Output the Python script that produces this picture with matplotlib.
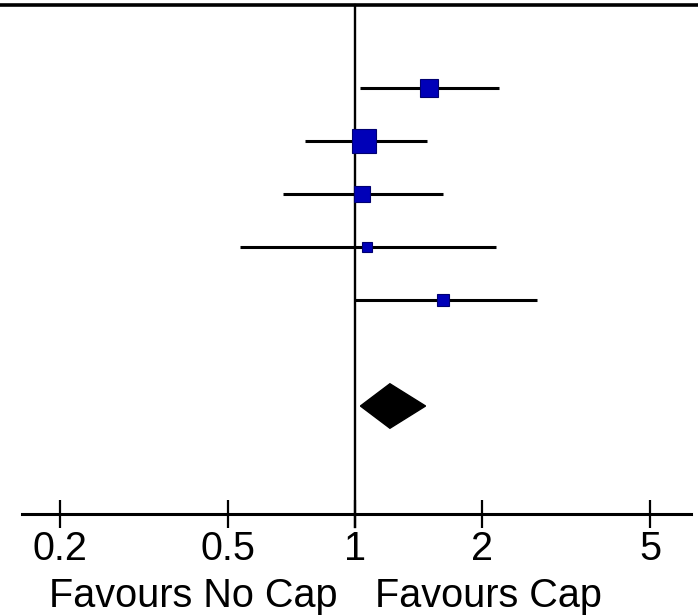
import numpy as np
import matplotlib.pyplot as plt

# study estimates (odds ratio) with 95% CI
studies = ['Study 1', 'Study 2', 'Study 3', 'Study 4', 'Study 5']
odds_ratio = [1.50, 1.05, 1.04, 1.07, 1.62]
ci_low = [1.03, 0.76, 0.675, 0.535, 1.00]
ci_high = [2.19, 1.48, 1.62, 2.16, 2.70]
weights = [13, 17.5, 11, 6.5, 8]  # square size ~ study weight

# pooled (fixed) estimate
pooled_or = 1.21
pooled_low = 1.03
pooled_high = 1.47

tick_values = [0.2, 0.5, 1, 2, 5]
tick_labels = ['0.2', '0.5', '1', '2', '5']
left_label = 'Favours No Cap'
right_label = 'Favours Cap'

plt.rcParams['font.family'] = ['Liberation Sans', 'DejaVu Sans']

fig = plt.figure(figsize=(6.98, 6.15), dpi=100)
ax = fig.add_axes([0, 0, 1, 1])
ax.set_xscale('log')
ax.set_xlim(0.1441, 6.50)
ax.set_ylim(9.943, -1.660)

rows = np.arange(len(studies))
pooled_row = 6
axis_row = 8.04

# top rule and line of no effect
ax.axhline(-1.57, color='black', lw=2.6)
ax.plot([1, 1], [-1.57, 8.28], color='black', lw=1.7)

# confidence intervals and squares
ax.hlines(rows, ci_low, ci_high, color='black', lw=2.2, zorder=2)
for r, est, w in zip(rows, odds_ratio, weights):
    ax.plot(est, r, 's', ms=w, color='#0000b8', mec='#000070', mew=0.8, zorder=3)

# pooled diamond
h = 0.42
ax.fill([pooled_low, pooled_or, pooled_high, pooled_or],
        [pooled_row, pooled_row - h, pooled_row, pooled_row + h],
        color='black', zorder=3)

# x axis
for s in ['left', 'right', 'top']:
    ax.spines[s].set_visible(False)
ax.spines['bottom'].set_position(('data', axis_row))
ax.spines['bottom'].set_bounds(0.1625, 6.25)
ax.spines['bottom'].set_linewidth(2.2)
ax.set_yticks([])
ax.set_xticks(tick_values)
ax.set_xticklabels(tick_labels)
ax.xaxis.set_minor_locator(plt.NullLocator())
ax.tick_params(axis='x', direction='inout', length=20, width=1.6,
               labelsize=28.5, pad=1.5, colors='black')

ax.text(0.91, 9.79, left_label, ha='right', va='baseline', fontsize=28.5)
ax.text(1.115, 9.79, right_label, ha='left', va='baseline', fontsize=28.5)

fig.savefig('out.png', dpi=100, facecolor='white')
